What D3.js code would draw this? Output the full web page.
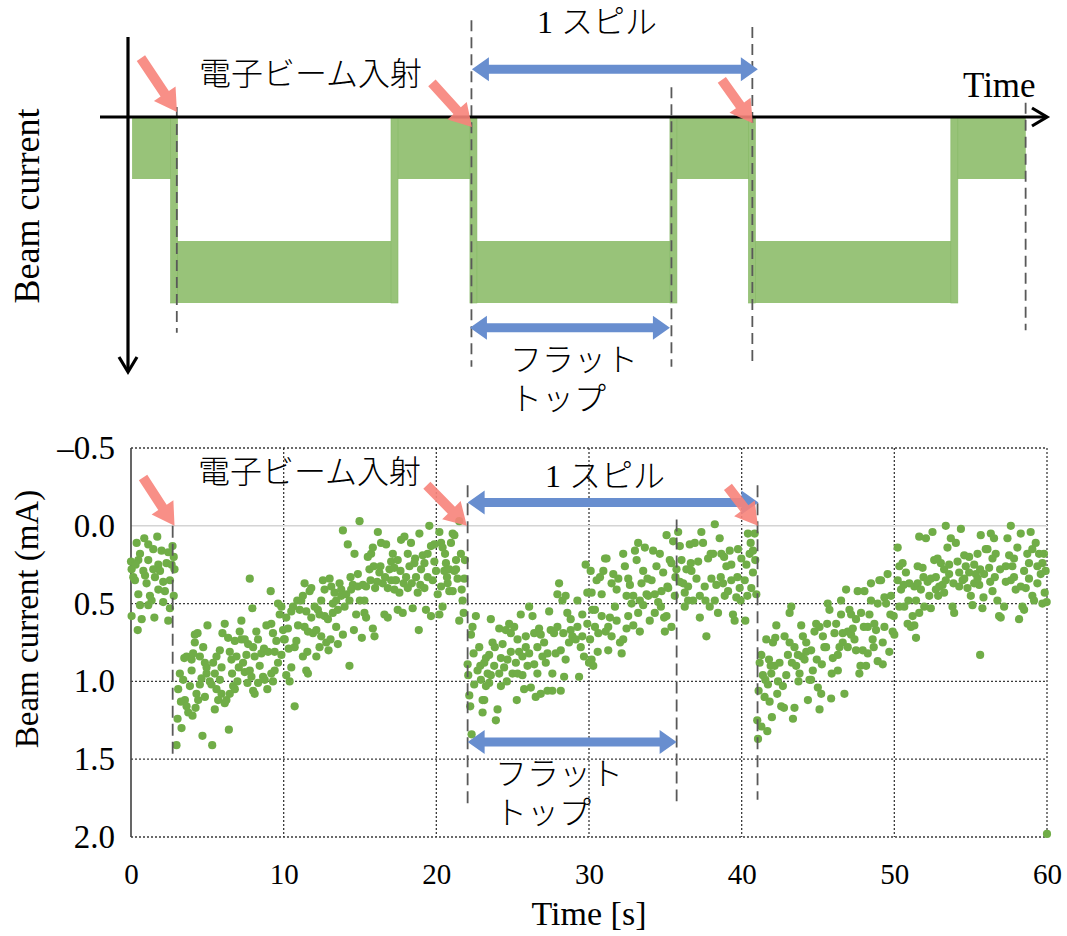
<!DOCTYPE html>
<html><head><meta charset="utf-8">
<script src="https://cdn.jsdelivr.net/npm/d3@7"></script>
<style>body{margin:0;background:#fff}text{font-family:"Liberation Serif","Noto Sans CJK JP",serif;fill:#000}.jp{font-weight:300}</style>
</head><body><svg id="c" width="1067" height="936"></svg>
<script>
// ---------------- DATA ----------------
const timeTicks = [0, 10, 20, 30, 40, 50, 60];
const currentTicks = [-0.5, 0, 0.5, 1.0, 1.5, 2.0];
const currentTickLabels = ["–0.5", "0.0", "0.5", "1.0", "1.5", "2.0"];
const injectionTimes = [2.73, 22.05, 41.04];
const flatTopEnd = 35.74;

// measured beam current [time s, current mA]
const spill0 = [[0.37,0.11],[0.87,0.08],[1.72,0.07],[0.59,0.18],[1.13,0.12],[1.46,0.15],[2.0,0.16],[2.44,0.17],[2.72,0.13],[0.0,0.23],[0.48,0.22],[1.13,0.22],[1.79,0.25],[2.33,0.24],[2.85,0.28],[0.04,0.28],[0.81,0.29],[1.46,0.28],[1.9,0.29],[2.55,0.35],[0.26,0.35],[1.02,0.37],[1.79,0.41],[2.22,0.42],[2.8,0.45],[0.48,0.44],[1.35,0.48],[2.11,0.49],[0.59,0.51],[1.13,0.51],[2.55,0.53],[0.04,0.58],[0.7,0.6],[1.53,0.59],[2.44,0.61],[0.44,0.67],[0.15,0.33],[0.92,0.32],[1.57,0.33],[2.66,0.25],[2.11,0.36],[1.24,0.45],[2.8,0.2],[0.3,0.25]];

const spill1 = [[2.98,1.41],[3.05,1.24],[3.31,1.30],[3.09,1.05],[3.20,0.95],[3.42,0.99],[3.53,1.12],[3.64,0.84],[3.86,1.03],[3.97,0.93],[3.75,1.20],[4.03,1.22],[3.27,1.13],[3.64,1.16],[3.97,0.86],[3.49,0.85],
[4.18,0.70],[4.36,0.69],[4.18,0.75],[4.73,0.78],[4.51,0.84],[4.84,0.88],[4.95,0.95],[4.62,0.98],[4.29,1.08],[4.40,1.12],[4.23,1.17],[4.68,1.35],[5.01,0.64],[4.07,0.82],[4.51,1.02],[4.84,1.10],[4.95,0.91],
[5.16,1.00],[5.32,1.41],[5.38,0.88],[5.49,0.95],[5.60,1.05],[5.71,1.12],[5.82,0.99],[5.93,0.91],[5.49,1.18],[5.82,0.80],[5.99,0.69],[5.93,1.08],[5.27,1.02],[5.60,0.84],
[6.14,0.63],[6.36,0.72],[6.47,0.81],[6.58,0.86],[6.69,1.03],[6.41,1.31],[6.80,0.74],[6.91,0.84],[6.14,1.14],[6.25,1.12],[6.62,0.95],[6.97,1.00],[6.80,1.05],[6.47,1.08],
[7.23,0.61],[7.12,0.68],[7.34,0.88],[7.45,0.94],[7.67,0.76],[7.78,0.93],[7.89,0.97],[7.63,1.01],[8.00,0.78],[7.95,0.53],[7.78,0.34],[7.56,0.83],[7.23,0.73],[7.06,0.91],[8.00,1.06],[8.10,1.08],[7.45,0.73],
[8.21,0.68],[8.32,0.73],[8.54,0.82],[8.43,0.90],[8.65,0.97],[8.71,0.79],[8.87,0.64],[8.98,0.81],[8.93,1.05],[9.15,0.42],[8.32,1.01],[8.76,0.99],[8.10,0.84],
[9.19,0.63],[9.30,0.69],[9.41,0.81],[9.52,0.74],[9.63,0.50],[9.74,0.57],[9.85,0.52],[9.96,0.67],[9.19,0.95],[9.41,0.93],[9.63,0.88],[9.85,0.83],[10.02,0.73],[9.30,1.00],
[10.17,0.59],[10.28,0.66],[10.39,1.00],[10.50,0.91],[10.61,0.52],[10.72,0.78],[10.83,0.74],[10.89,0.48],[10.94,0.64],[10.17,0.96],[10.33,0.79],[10.72,1.16],[10.07,0.73],[10.50,0.55],
[11.15,0.48],[11.26,0.45],[11.37,0.37],[11.48,0.55],[11.59,0.68],[11.70,0.42],[11.81,0.40],[11.48,0.93],[11.59,0.95],[11.26,0.84],[11.81,0.59],[11.92,0.69],[11.55,0.81],[11.37,0.65],[11.05,0.54],
[12.14,0.67],[12.24,0.54],[12.35,0.57],[12.46,0.48],[12.57,0.35],[12.68,0.58],[12.79,0.75],[12.90,0.60],[13.01,0.34],[12.68,0.41],[12.46,0.71],[12.35,0.78],[12.14,0.84],[12.94,0.80],[12.03,0.52],
[13.12,0.39],[13.22,0.50],[13.33,0.43],[13.44,0.65],[13.55,0.76],[13.66,0.37],[13.77,0.45],[13.88,0.03],[13.99,0.52],[13.22,0.56],[13.55,0.54],[13.88,0.70],[13.77,0.41],[13.44,0.48],[13.07,0.73],
[14.10,0.44],[14.20,0.12],[14.31,0.48],[14.38,0.33],[14.53,0.38],[14.64,0.18],[14.75,0.57],[14.86,0.39],[14.97,-0.03],[14.99,0.48],[14.42,0.41],[14.31,0.90],[14.60,0.67],[14.86,0.31],[15.12,0.72],
[15.19,0.38],[15.29,0.56],[15.40,0.59],[15.51,0.20],[15.62,0.28],[15.73,0.18],[15.84,0.66],[15.95,0.71],[15.99,0.40],[15.84,0.14],[15.29,0.48],[16.17,0.04],[15.69,0.35],[15.90,0.26],[15.40,0.39],
[16.27,0.30],[16.38,0.11],[16.49,0.37],[16.60,0.57],[16.71,0.12],[16.82,0.59],[16.93,0.28],[17.04,0.23],[16.64,0.33],[16.34,0.26],[16.12,0.36],[16.82,0.40],[17.04,0.35],
[17.15,0.18],[17.25,0.27],[17.36,0.35],[17.47,0.54],[17.58,0.43],[17.69,0.09],[17.80,0.56],[17.91,0.07],[18.02,0.33],[17.25,0.41],[17.47,0.22],[17.86,0.37],[17.65,0.29],[17.30,0.35],
[18.13,0.18],[18.24,0.26],[18.34,0.11],[18.45,0.53],[18.56,0.24],[18.67,0.33],[18.78,0.43],[18.89,0.05],[19.00,0.28],[18.85,0.67],[18.39,0.37],[18.61,0.21],[18.95,0.38],[18.13,0.40],
[19.11,0.19],[19.22,0.24],[19.32,0.54],[19.43,0.18],[19.54,0.00],[19.65,0.13],[19.76,0.35],[19.87,0.23],[19.98,0.29],[19.65,0.58],[19.43,0.33],[19.22,0.40],[19.87,0.12],[20.09,0.44],
[20.20,0.04],[20.31,0.11],[20.41,0.14],[20.52,0.29],[20.63,0.24],[20.74,0.37],[20.85,0.42],[20.96,0.11],[20.20,0.57],[20.41,0.52],[20.57,0.18],[21.07,0.05],[20.70,0.33],[20.31,0.39],[20.85,0.28],
[21.18,0.06],[21.29,0.22],[21.39,0.34],[21.50,0.61],[21.61,0.18],[21.72,0.48],[21.79,0.56],[21.87,0.22],[21.50,-0.03],[21.29,0.28],[21.66,0.41],[21.07,0.42],[21.18,0.29],[21.83,0.34]];

const spill2 = [[22.05,0.89],[22.16,1.09],[22.22,1.16],[22.31,1.34],[22.37,0.65],[22.48,1.02],[22.59,0.58],[22.70,0.93],[22.81,0.78],[22.92,0.99],[23.03,1.12],[22.09,0.96],[22.44,0.82],[22.66,1.38],[22.27,0.70],[22.88,0.90],
[23.03,1.20],[23.14,1.12],[23.25,0.85],[23.36,0.95],[23.46,1.01],[23.57,0.60],[23.68,0.75],[23.79,0.90],[23.90,1.25],[24.01,1.18],[23.14,0.88],[23.46,0.83],[23.83,0.78],[23.57,0.96],[23.25,1.03],
[24.12,0.66],[24.23,1.03],[24.34,0.76],[24.44,0.91],[24.55,0.67],[24.66,0.86],[24.77,0.63],[24.88,0.81],[24.99,0.95],[24.23,0.85],[24.62,1.00],[24.88,0.69],[24.12,0.95],
[25.10,0.65],[25.27,1.12],[25.32,0.73],[25.42,0.81],[25.53,0.57],[25.64,0.96],[25.75,1.05],[25.86,0.78],[25.97,0.90],[25.32,0.95],[25.64,0.84],[25.86,0.71],[25.21,0.88],
[26.08,0.52],[26.19,1.04],[26.30,0.58],[26.41,0.69],[26.51,1.10],[26.62,0.78],[26.73,0.66],[26.84,1.08],[26.95,0.84],[26.08,0.82],[26.41,0.89],[26.84,0.70],[26.62,0.95],
[27.06,0.75],[27.17,0.88],[27.28,1.06],[27.39,0.55],[27.49,0.67],[27.60,1.06],[27.71,0.69],[27.82,0.82],[27.93,0.44],[28.04,0.37],[27.28,0.82],[27.60,0.95],[27.93,0.65],
[28.15,1.06],[28.26,0.48],[28.37,0.97],[28.47,0.86],[28.58,0.56],[28.69,0.75],[28.80,0.67],[28.91,0.71],[28.15,0.80],[28.47,0.45],[28.80,0.60],[28.32,0.69],
[29.13,0.73],[29.24,0.48],[29.35,0.97],[29.46,0.78],[29.56,0.57],[29.67,0.84],[29.78,0.25],[29.89,0.43],[30.00,0.88],[30.11,0.29],[29.24,0.65],[29.56,0.71],[29.89,0.63],[30.22,0.54],
[30.07,0.73],[30.17,0.86],[30.28,0.90],[30.39,0.54],[30.50,0.35],[30.61,0.69],[30.72,0.33],[30.83,0.44],[30.94,0.29],[31.05,0.21],[30.17,0.43],[30.57,0.81],[30.83,0.58],[30.39,0.65],
[31.15,0.21],[31.26,0.65],[31.37,0.59],[31.48,0.37],[31.59,0.31],[31.70,0.52],[31.81,0.41],[31.92,0.34],[32.03,0.75],[31.26,0.80],[31.48,0.71],[31.81,0.61],[31.09,0.68],
[32.14,0.82],[32.24,0.18],[32.35,0.26],[32.46,0.45],[32.57,0.58],[32.68,0.38],[32.79,0.50],[32.90,0.45],[33.01,0.16],[32.24,0.73],[32.57,0.34],[32.90,0.64],[32.46,0.66],
[33.12,0.22],[33.22,0.11],[33.33,0.68],[33.44,0.37],[33.55,0.51],[33.66,0.14],[33.77,0.44],[33.88,0.45],[33.98,0.61],[33.22,0.56],[33.55,0.29],[33.83,0.34],[33.33,0.48],
[34.10,0.35],[34.20,0.16],[34.31,0.56],[34.42,0.26],[34.53,0.49],[34.64,0.18],[34.75,0.42],[34.86,0.30],[34.97,0.68],[35.08,0.06],[34.31,0.44],[34.71,0.52],[34.92,0.59],
[35.08,0.58],[35.19,0.40],[35.29,0.22],[35.40,0.24],[35.51,0.10],[35.62,0.45],[35.73,0.28],[35.84,0.04],[35.95,0.13],[35.40,0.65],[35.66,0.33],[35.14,0.39],[35.95,0.36],
[36.06,0.22],[36.17,0.37],[36.27,0.52],[36.38,0.28],[36.49,0.39],[36.60,0.12],[36.71,0.29],[36.82,0.48],[36.93,0.11],[37.04,0.34],[36.27,0.43],[36.67,0.24],[36.49,0.48],
[37.15,0.23],[37.26,0.59],[37.36,0.04],[37.47,0.11],[37.58,0.39],[37.69,0.71],[37.80,0.21],[37.91,0.52],[38.02,0.34],[37.26,0.45],[37.63,0.48],[37.97,0.18],
[38.13,0.18],[38.24,-0.01],[38.34,0.38],[38.45,0.56],[38.56,0.08],[38.67,0.18],[38.78,0.37],[38.89,0.45],[39.00,0.26],[38.24,0.48],[38.63,0.33],[38.85,0.20],
[39.11,0.42],[39.22,0.16],[39.32,0.35],[39.43,0.57],[39.54,0.61],[39.65,0.46],[39.76,0.15],[39.87,0.40],[39.98,0.21],[39.32,0.25],[39.72,0.33],[39.93,0.48],[40.24,0.61],
[40.20,0.35],[40.31,0.25],[40.41,0.05],[40.52,0.18],[40.63,0.40],[40.74,0.30],[40.85,0.05],[40.96,0.44],[40.89,0.22],[40.59,0.11],[40.37,0.45],[40.74,0.16]];

const spill3 = [[41.02,1.25],[41.07,1.37],[41.11,1.06],[41.18,0.88],[41.29,0.83],[41.39,0.96],[41.50,1.10],[41.61,0.73],[41.68,1.32],[41.72,1.02],[41.83,1.13],[41.90,0.90],[41.98,1.23],[41.29,1.29],[41.55,0.99],[41.94,0.95],[41.79,0.86],
[42.05,0.75],[42.16,0.90],[42.27,0.64],[42.38,1.00],[42.48,0.88],[42.59,1.16],[42.70,1.03],[42.81,0.71],[42.92,0.96],[43.03,0.83],[42.33,1.08],[42.77,1.17],[43.14,0.75],[42.20,0.72],
[43.14,0.56],[43.25,0.52],[43.36,1.24],[43.46,0.78],[43.57,0.90],[43.68,0.83],[43.79,0.95],[43.90,0.64],[44.01,0.71],[43.46,1.17],[43.72,1.00],[43.29,0.88],[43.94,0.84],
[44.12,0.86],[44.23,0.81],[44.34,1.12],[44.44,0.99],[44.55,0.80],[44.66,0.93],[44.77,0.68],[44.88,0.63],[44.99,1.04],[45.10,1.18],[44.23,0.75],[44.55,0.99],[44.92,0.86],
[45.10,0.65],[45.21,1.08],[45.32,0.71],[45.42,0.78],[45.53,0.78],[45.64,0.50],[45.75,0.54],[45.86,1.11],[45.97,0.85],[46.08,0.69],[45.25,0.89],[45.60,0.63],[45.90,0.95],
[46.19,0.63],[46.30,0.83],[46.41,0.78],[46.51,0.48],[46.62,0.75],[46.73,1.08],[46.84,0.41],[46.95,0.68],[47.06,0.54],[46.30,0.93],[46.62,0.69],[46.95,0.78],[46.51,0.57],
[47.17,0.70],[47.28,0.66],[47.39,0.73],[47.49,0.60],[47.60,0.42],[47.71,0.95],[47.82,0.56],[47.93,0.80],[48.04,0.42],[47.17,0.57],[47.49,0.80],[47.78,0.90],[48.00,0.65],
[48.15,0.90],[48.26,0.65],[48.37,0.57],[48.47,0.37],[48.58,0.73],[48.69,0.63],[48.80,0.67],[48.91,0.50],[49.02,0.35],[48.26,0.82],[48.65,0.78],[48.91,0.87],[48.47,0.48],
[49.13,0.35],[49.24,0.89],[49.35,0.46],[49.46,0.50],[49.56,0.31],[49.67,0.81],[49.78,0.45],[49.89,0.68],[50.00,0.70],[50.22,0.14],[49.35,0.65],[49.74,0.57],[49.96,0.58],[49.24,0.75],
[50.22,0.35],[50.33,0.26],[50.44,0.41],[50.54,0.24],[50.65,0.52],[50.76,0.30],[50.87,0.63],[50.98,0.37],[51.09,0.65],[50.33,0.52],[50.61,0.38],[50.92,0.48],[51.42,0.72],
[51.20,0.58],[51.31,0.39],[51.42,0.48],[51.53,0.37],[51.63,0.07],[51.74,0.41],[51.85,0.27],[51.96,0.52],[52.07,0.08],[51.31,0.64],[51.63,0.56],[51.91,0.33],[51.53,0.26],
[52.18,0.36],[52.29,0.45],[52.39,0.53],[52.50,0.04],[52.61,0.22],[52.72,0.33],[52.83,0.21],[52.94,0.39],[53.05,0.24],[52.39,0.34],[52.72,0.41],[52.87,0.45],
[53.16,0.38],[53.26,0.28],[53.37,0.00],[53.48,0.14],[53.59,0.31],[53.70,0.08],[53.81,0.52],[53.92,0.56],[54.03,0.11],[53.26,0.43],[53.59,0.25],[53.87,0.37],[53.37,0.35],
[54.14,0.23],[54.25,0.39],[54.36,0.02],[54.47,0.35],[54.58,0.19],[54.68,0.26],[54.79,0.40],[54.90,0.30],[55.01,0.45],[54.25,0.30],[54.58,0.34],[55.62,0.83],[54.90,0.20],
[55.12,0.51],[55.23,0.25],[55.34,0.31],[55.45,0.18],[55.56,0.38],[55.66,0.06],[55.77,0.53],[55.88,0.31],[55.99,0.15],[55.23,0.37],[55.62,0.28],[55.84,0.46],[55.45,0.34],
[56.10,0.15],[56.21,0.27],[56.32,0.05],[56.43,0.42],[56.53,0.08],[56.64,0.18],[56.75,0.48],[56.86,0.58],[56.97,0.59],[56.28,0.36],[56.58,0.33],[56.93,0.28],[56.43,0.21],
[57.19,0.52],[57.30,0.36],[57.41,0.08],[57.52,0.19],[57.63,0.00],[57.73,0.26],[57.84,0.21],[57.95,0.41],[58.06,0.14],[57.30,0.26],[57.63,0.35],[58.17,0.60],[57.84,0.33],
[58.28,0.05],[58.39,0.52],[58.50,0.29],[58.61,0.40],[58.71,0.18],[58.82,0.24],[58.93,0.04],[59.04,0.45],[58.50,0.54],[58.82,0.34],[58.28,0.39],[59.04,0.15],
[59.15,0.48],[59.26,0.11],[59.37,0.26],[59.48,0.18],[59.59,0.31],[59.70,0.50],[59.80,0.18],[59.85,0.43],[59.91,0.29],[59.37,0.37],[59.70,0.24],[59.98,0.49],[60.0,1.98]];

// schematic (top): phase edges in time units, band 0 = injection (small current), 1 = flat top (large current)
const schemEdges = [0.07, 2.82, 17.26, 22.43, 35.53, 40.67, 53.93, 58.61];
const schemBands = [0, 1, 0, 1, 0, 1, 0];
const schemDashTimes = [3.0, 22.3, 35.4, 40.7, 58.6];
const schemDashTop = [-0.16, -1.56, -0.48, -1.45, -0.23];
const schemDashBottom = [3.48, 4.03, 4.03, 4.03, 3.44];

// ---------------- DRAW ----------------
(function () {
const svg = d3.select("#c");
const GREEN = "#70ad47", SCHEM = "#98c379", RED = "#f7837a", BLUE = "#688ecf", DASH = "#595959";

function blockArrow(x1, y1, x2, y2, shaft, headW, headL, dbl) {
  const dx = x2 - x1, dy = y2 - y1, L = Math.hypot(dx, dy);
  const ux = dx / L, uy = dy / L, nx = -uy, ny = ux;
  const P = (x, y, a, b) => [x + ux * a + nx * b, y + uy * a + ny * b];
  const pts = [];
  if (dbl) {
    pts.push(P(x1, y1, 0, 0), P(x1, y1, headL, headW / 2), P(x1, y1, headL, shaft / 2));
  } else {
    pts.push(P(x1, y1, 0, shaft / 2));
  }
  pts.push(P(x2, y2, -headL, shaft / 2), P(x2, y2, -headL, headW / 2), P(x2, y2, 0, 0),
           P(x2, y2, -headL, -headW / 2), P(x2, y2, -headL, -shaft / 2));
  if (dbl) {
    pts.push(P(x1, y1, headL, -shaft / 2), P(x1, y1, headL, -headW / 2));
  } else {
    pts.push(P(x1, y1, 0, -shaft / 2));
  }
  return pts.map(p => p.join(",")).join(" ");
}

// ===== TOP SCHEMATIC =====
const xs = d3.scaleLinear().domain([0, 60]).range([131, 1047]);
const ys = d3.scaleLinear().domain([0, 3]).range([117, 303]);
const topG = svg.append("g");
schemBands.forEach((b, i) => {
  const y0 = b === 0 ? 0 : 2, y1 = b === 0 ? 1 : 3;
  topG.append("rect").attr("x", xs(schemEdges[i])).attr("y", ys(y0))
    .attr("width", xs(schemEdges[i + 1]) - xs(schemEdges[i])).attr("height", ys(y1) - ys(y0))
    .attr("fill", SCHEM);
});
schemEdges.slice(1, -1).forEach(e => {
  topG.append("rect").attr("x", xs(e) - 3.5).attr("y", ys(0)).attr("width", 7)
    .attr("height", ys(3) - ys(0)).attr("fill", SCHEM).attr("stroke", "#86b866").attr("stroke-width", 0.6);
});
schemDashTimes.forEach((t, i) => {
  topG.append("line").attr("x1", xs(t)).attr("x2", xs(t)).attr("y1", ys(schemDashTop[i])).attr("y2", ys(schemDashBottom[i]))
    .attr("stroke", DASH).attr("stroke-width", 1.8).attr("stroke-dasharray", "11,6");
});
topG.append("line").attr("x1", 100).attr("x2", 1046).attr("y1", 117).attr("y2", 117).attr("stroke", "#000").attr("stroke-width", 3.2);
topG.append("path").attr("d", "M1032,108 L1047,117 L1032,126").attr("fill", "none").attr("stroke", "#000").attr("stroke-width", 3.2);
topG.append("line").attr("x1", 128).attr("x2", 128).attr("y1", 37).attr("y2", 371).attr("stroke", "#000").attr("stroke-width", 3.2);
topG.append("path").attr("d", "M119,357 L128,372 L137,357").attr("fill", "none").attr("stroke", "#000").attr("stroke-width", 3.2);
topG.append("polygon").attr("points", blockArrow(xs(22.33), ys(-0.77), xs(41.06), ys(-0.77), 9, 24, 17, true)).attr("fill", BLUE);
topG.append("polygon").attr("points", blockArrow(xs(22.2), ys(3.40), xs(35.3), ys(3.40), 9, 24, 17, true)).attr("fill", BLUE);
[[0.65, -0.95, 3.01, -0.08], [19.71, -0.55, 22.33, 0.16], [38.7, -0.6, 40.73, 0.1]].forEach(a => {
  topG.append("polygon").attr("points", blockArrow(xs(a[0]), ys(a[1]), xs(a[2]), ys(a[3]), 10, 26, 22, false))
    .attr("fill", RED).attr("fill-opacity", 0.9);
});
topG.append("text").attr("x", 963).attr("y", 97).attr("font-size", 35).text("Time");
topG.append("text").attr("transform", "translate(39,206) rotate(-90)").attr("text-anchor", "middle").attr("font-size", 36).text("Beam current");
topG.append("text").attr("class", "jp").attr("x", 199).attr("y", 85).attr("font-size", 32).text("電子ビーム入射");
topG.append("text").attr("class", "jp").attr("x", 537).attr("y", 33).attr("font-size", 32).text("1 スピル");
topG.append("text").attr("class", "jp").attr("x", 510).attr("y", 371).attr("font-size", 32).text("フラット");
topG.append("text").attr("class", "jp").attr("x", 510).attr("y", 410).attr("font-size", 32).text("トップ");

// ===== BOTTOM SCATTER =====
const x = d3.scaleLinear().domain([0, 60]).range([131, 1047]);
const y = d3.scaleLinear().domain([-0.5, 2.0]).range([448, 837]);
const g = svg.append("g");
timeTicks.filter(t => t > 0).forEach(t => {
  g.append("line").attr("x1", x(t)).attr("x2", x(t)).attr("y1", y(-0.5)).attr("y2", y(2))
    .attr("stroke", "#3a3a3a").attr("stroke-width", 1.3).attr("stroke-dasharray", "2,2");
});
currentTicks.filter(v => v !== 0).forEach(v => {
  g.append("line").attr("x1", x(0)).attr("x2", x(60)).attr("y1", y(v)).attr("y2", y(v))
    .attr("stroke", "#3a3a3a").attr("stroke-width", 1.3).attr("stroke-dasharray", "2,2");
});
g.append("line").attr("x1", x(0)).attr("x2", x(60)).attr("y1", y(0)).attr("y2", y(0)).attr("stroke", "#d4d4d4").attr("stroke-width", 1.6);
g.append("line").attr("x1", x(0)).attr("x2", x(0)).attr("y1", y(-0.5)).attr("y2", y(2)).attr("stroke", "#404040").attr("stroke-width", 1.6);

const yAxis = d3.axisLeft(y).tickValues(currentTicks).tickFormat((d, i) => currentTickLabels[i]).tickSize(0).tickPadding(16);
const ya = g.append("g").attr("transform", `translate(${x(0)},0)`).call(yAxis);
ya.select(".domain").remove();
ya.selectAll("text").attr("font-size", 33).attr("font-family", "Liberation Serif").attr("fill", "#000");
const xAxis = d3.axisBottom(x).tickValues(timeTicks).tickFormat(d3.format("d")).tickSize(0).tickPadding(26);
const xa = g.append("g").attr("transform", `translate(0,${y(2)})`).call(xAxis);
xa.select(".domain").remove();
xa.selectAll("text").attr("font-size", 29).attr("font-family", "Liberation Serif").attr("fill", "#000");

const all = [].concat(spill0, spill1, spill2, spill3);
g.append("g").selectAll("circle").data(all).join("circle")
  .attr("cx", d => x(d[0])).attr("cy", d => y(d[1])).attr("r", 4.1).attr("fill", GREEN);

[[injectionTimes[0], 0.0, 1.47], [injectionTimes[1], -0.26, 1.81], [flatTopEnd, -0.04, 1.77], [injectionTimes[2], -0.26, 1.76]].forEach(d => {
  g.append("line").attr("x1", x(d[0])).attr("x2", x(d[0])).attr("y1", y(d[1])).attr("y2", y(d[2]))
    .attr("stroke", DASH).attr("stroke-width", 1.8).attr("stroke-dasharray", "12,6");
});
g.append("polygon").attr("points", blockArrow(x(injectionTimes[1]), y(-0.15), x(41.1), y(-0.15), 9, 24, 17, true)).attr("fill", BLUE);
g.append("polygon").attr("points", blockArrow(x(injectionTimes[1]), y(1.39), x(flatTopEnd), y(1.39), 9, 24, 17, true)).attr("fill", BLUE);
[[0.79, -0.31, 2.85, 0.0], [19.38, -0.26, 22.0, 0.0], [39.1, -0.25, 41.06, 0.0]].forEach(a => {
  g.append("polygon").attr("points", blockArrow(x(a[0]), y(a[1]), x(a[2]), y(a[3]), 10, 26, 22, false))
    .attr("fill", RED).attr("fill-opacity", 0.9);
});
g.append("text").attr("class", "jp").attr("x", 198).attr("y", 483).attr("font-size", 32).text("電子ビーム入射");
g.append("text").attr("class", "jp").attr("x", 545).attr("y", 487).attr("font-size", 32).text("1 スピル");
g.append("text").attr("class", "jp").attr("x", 495).attr("y", 785).attr("font-size", 32).text("フラット");
g.append("text").attr("class", "jp").attr("x", 495).attr("y", 824).attr("font-size", 32).text("トップ");
g.append("text").attr("x", x(30)).attr("y", 925).attr("text-anchor", "middle").attr("font-size", 34).text("Time [s]");
g.append("text").attr("transform", "translate(38,619) rotate(-90)").attr("text-anchor", "middle").attr("font-size", 33).text("Beam current (mA)");
})();
</script></body></html>
